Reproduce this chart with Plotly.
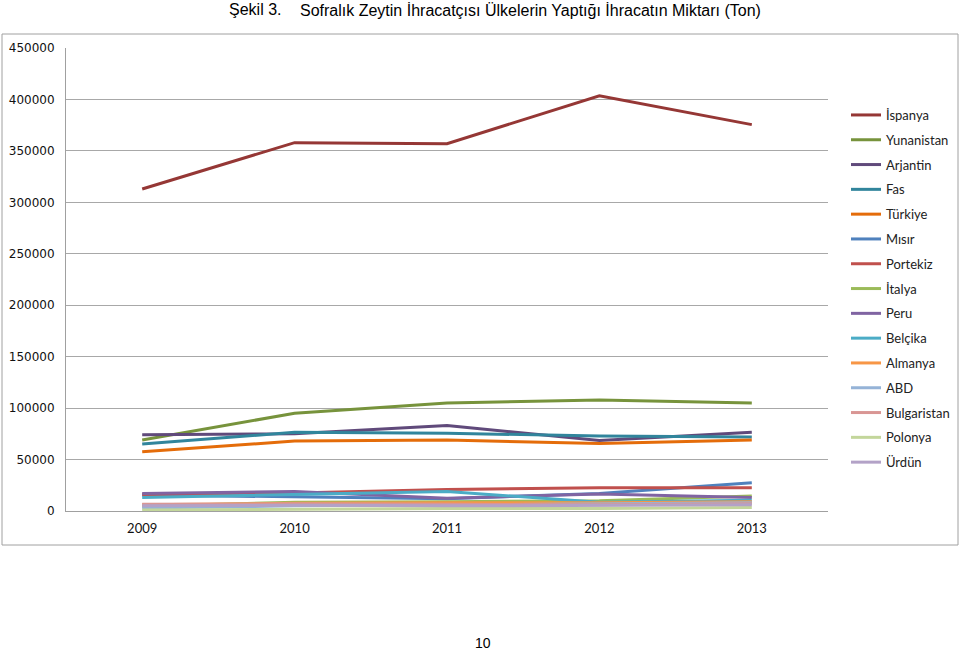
import plotly.graph_objects as go

years = ["2009", "2010", "2011", "2012", "2013"]

ispanya = [313000, 358000, 357000, 403500, 375500]
yunanistan = [69000, 95000, 105000, 108000, 105000]
arjantin = [74000, 75000, 83000, 68500, 76500]
fas = [65000, 76500, 75500, 73000, 72000]
turkiye = [57500, 68000, 69000, 65500, 69000]
misir = [15500, 14000, 12000, 17000, 27500]
portekiz = [16000, 17500, 21000, 22500, 22500]
italya = [4500, 8500, 9000, 10000, 14500]
peru = [17000, 19000, 12500, 16500, 13000]
belcika = [13000, 16000, 19000, 8500, 10500]
almanya = [6000, 7500, 8000, 8000, 9000]
abd = [3000, 5000, 6000, 7000, 8000]
bulgaristan = [6500, 7000, 6500, 6000, 7000]
polonya = [1000, 2000, 2500, 2500, 3500]
urdun = [5000, 5500, 5000, 5500, 6000]

series = [
    ("İspanya", ispanya, "#953735"),
    ("Yunanistan", yunanistan, "#77933C"),
    ("Arjantin", arjantin, "#604A7B"),
    ("Fas", fas, "#31859C"),
    ("Türkiye", turkiye, "#E46C0A"),
    ("Mısır", misir, "#4F81BD"),
    ("Portekiz", portekiz, "#C0504D"),
    ("İtalya", italya, "#9BBB59"),
    ("Peru", peru, "#8064A2"),
    ("Belçika", belcika, "#4BACC6"),
    ("Almanya", almanya, "#F79646"),
    ("ABD", abd, "#95B3D7"),
    ("Bulgaristan", bulgaristan, "#D99694"),
    ("Polonya", polonya, "#C3D69B"),
    ("Ürdün", urdun, "#B3A2C7"),
]

fig = go.Figure()
for i, (name, vals, col) in enumerate(series):
    fig.add_trace(go.Scatter(
        x=years, y=vals, name=name, mode="lines",
        line=dict(color=col, width=3),
        legendgroup=str(i),
        hoverinfo="skip",
    ))

L, R, T, B = 66, 131, 48, 140
W, H = 959, 651
pw = W - L - R
ph = H - T - B

def px(x):
    return (x - L) / pw

def py(y):
    return (H - B - y) / ph

title_font = dict(family="Liberation Sans Narrow, Arial Narrow, Liberation Sans, Arial", size=16, color="#000")

fig.update_layout(
    width=W, height=H,
    margin=dict(l=L, r=R, t=T, b=B, autoexpand=False),
    paper_bgcolor="white", plot_bgcolor="white",
    showlegend=True,
    legend=dict(
        x=px(846), y=py(100), xanchor="left", yanchor="top",
        font=dict(family="Lato, Calibri, sans-serif", size=13, color="#222"),
        tracegroupgap=4.9,
        bgcolor="rgba(0,0,0,0)",
        itemclick=False, itemdoubleclick=False,
    ),
    xaxis=dict(
        type="category", range=[-0.5, 4.5],
        showgrid=False, showline=True, linecolor="#A0A0A0", linewidth=1,
        ticks="", ticklabelstandoff=5,
        tickfont=dict(family="Lato, Calibri, sans-serif", size=13, color="#111"),
        fixedrange=True,
    ),
    yaxis=dict(
        range=[0, 450000], dtick=50000, tickformat="d",
        showgrid=True, gridcolor="#A8A8A8", gridwidth=1,
        showline=True, linecolor="#A0A0A0", linewidth=1,
        zeroline=False, ticks="", ticklabelstandoff=8,
        tickfont=dict(family="DejaVu Sans, Verdana, sans-serif", size=12, color="#111"),
        fixedrange=True,
    ),
    shapes=[
        dict(type="rect", xref="paper", yref="paper",
             x0=px(2), x1=px(958), y0=py(545), y1=py(34),
             line=dict(color="#A0A0A0", width=1), fillcolor="rgba(0,0,0,0)", layer="below"),
    ],
    annotations=[
        dict(text="Şekil 3.", xref="paper", yref="paper", x=px(227), y=py(10),
             xanchor="left", yanchor="middle", showarrow=False, font=title_font),
        dict(text="Sofralık Zeytin İhracatçısı Ülkelerin Yaptığı İhracatın Miktarı (Ton)",
             xref="paper", yref="paper", x=px(298), y=py(10),
             xanchor="left", yanchor="middle", showarrow=False, font=title_font),
        dict(text="10", xref="paper", yref="paper", x=px(483), y=py(643),
             xanchor="center", yanchor="middle", showarrow=False,
             font=dict(family="Liberation Sans, Arial", size=14, color="#000")),
    ],
)

fig.write_html("out.html", config={"displayModeBar": False})
